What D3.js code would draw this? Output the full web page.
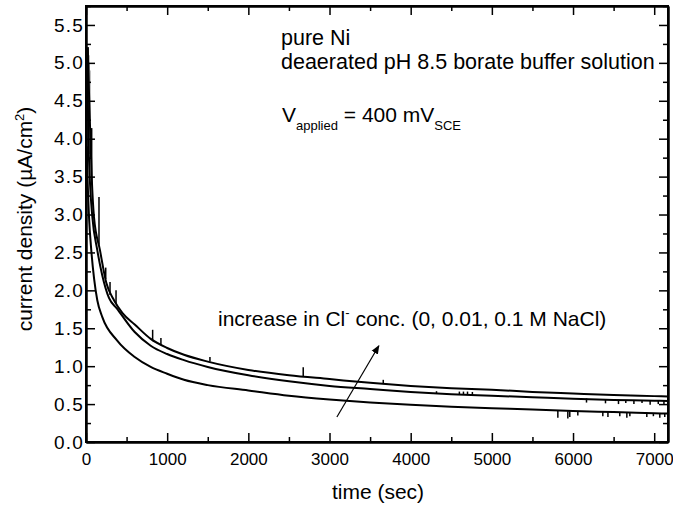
<!DOCTYPE html>
<html>
<head>
<meta charset="utf-8">
<script src="https://cdn.jsdelivr.net/npm/d3@7"></script>
<style>
  html, body { margin: 0; padding: 0; background: #fff; }
  svg { display: block; }
</style>
</head>
<body>
<svg id="chart" width="673" height="508"></svg>
<script>
// ---------------- data ----------------
const xTicks = [0, 1000, 2000, 3000, 4000, 5000, 6000, 7000];
const xMinorTicks = [500, 1500, 2500, 3500, 4500, 5500, 6500];
const yTicks = [0.0, 0.5, 1.0, 1.5, 2.0, 2.5, 3.0, 3.5, 4.0, 4.5, 5.0, 5.5];
const yMinorTicks = [0.25, 0.75, 1.25, 1.75, 2.25, 2.75, 3.25, 3.75, 4.25, 4.75, 5.25, 5.75];

// 0 M NaCl (lowest curve): [time s, current density µA/cm²]
const series0M = [[10,3.9],[20,3.45],[37,2.97],[65,2.53],[100,2.15],[139,1.87],[200,1.65],[382,1.34],[600,1.12],[797,0.99],[1000,0.9],[1207,0.82],[1500,0.75],[2000,0.68],[2500,0.61],[3000,0.56],[3500,0.52],[4000,0.49],[4500,0.465],[5000,0.445],[5500,0.43],[6000,0.41],[6500,0.395],[7000,0.38],[7170,0.375]];
// 0.01 M NaCl (middle curve)
const series001M = [[15,5.0],[30,4.0],[50,3.4],[78,2.97],[139,2.53],[200,2.2],[283,1.9],[382,1.76],[600,1.45],[797,1.27],[1000,1.16],[1207,1.08],[1500,0.99],[2000,0.88],[2500,0.8],[3000,0.74],[3500,0.7],[4000,0.66],[4500,0.63],[5000,0.61],[5500,0.59],[6000,0.57],[6500,0.555],[7000,0.545],[7170,0.54]];
// 0.1 M NaCl (upper curve)
const series01M = [[20,5.2],[40,4.5],[70,3.5],[98,2.97],[172,2.53],[250,2.1],[345,1.87],[450,1.7],[600,1.55],[797,1.36],[1000,1.24],[1207,1.15],[1500,1.06],[2000,0.95],[2500,0.88],[3000,0.83],[3500,0.78],[4000,0.74],[4500,0.71],[5000,0.69],[5500,0.66],[6000,0.64],[6500,0.62],[7000,0.605],[7170,0.6]];

// noise spikes: [time, from value, to value]
const earlyNoise = [[10,3.8,5.1],[16,3.8,5.17],[22,3.9,5.2],[28,3.85,5.15],[34,3.9,5.1],[40,3.8,5.0],[46,3.8,4.9]];
const spikes01M = [[25,4.6,5.21],[70,3.4,4.14],[160,2.6,3.23],[243,2.15,2.3],[296,1.94,2.11],[370,1.83,2.0],[821,1.33,1.48],[923,1.28,1.37],[1527,1.06,1.12],[2676,0.87,0.985],[3662,0.77,0.82]];
const spikes001M = [[4318,0.64,0.67],[4600,0.62,0.665],[4650,0.62,0.665],[4700,0.62,0.665],[4760,0.615,0.66],[6166,0.52,0.575],[6400,0.51,0.56],[6560,0.5,0.555],[6650,0.515,0.555],[6750,0.5,0.55],[6850,0.515,0.55],[6950,0.49,0.545],[7050,0.5,0.545],[7120,0.49,0.54]];
const spikes0M = [[5813,0.41,0.32],[5936,0.405,0.31],[5960,0.405,0.33],[6059,0.40,0.35],[6367,0.395,0.34],[6430,0.395,0.33],[6576,0.39,0.34],[6663,0.39,0.32],[6700,0.39,0.34],[6909,0.385,0.33],[6990,0.38,0.34],[7069,0.38,0.32],[7130,0.38,0.33]];

// annotation arrow (data coords): tail -> head
const arrowPts = [[3091,0.33],[3608,1.27]];

// ---------------- drawing ----------------
const M = {left: 86, right: 668, top: 6, bottom: 442};
const FONT = "'Liberation Sans', Arial, Helvetica, sans-serif";

const x = d3.scaleLinear().domain([0, 7170]).range([M.left, M.right]);
const y = d3.scaleLinear().domain([0, 5.75]).range([M.bottom, M.top]);

const svg = d3.select('#chart').attr('font-family', FONT);

// curves
const line = d3.line().x(d => x(d[0])).y(d => y(d[1])).curve(d3.curveMonotoneX);
const plot = svg.append('g');

plot.selectAll('line.early').data(earlyNoise).enter().append('line')
  .attr('x1', d => x(d[0])).attr('x2', d => x(d[0]))
  .attr('y1', d => y(d[1])).attr('y2', d => y(d[2]))
  .attr('stroke', '#808080').attr('stroke-width', 1.5);

[series0M, series001M, series01M].forEach(s => {
  plot.append('path').datum(s).attr('d', line)
    .attr('fill', 'none').attr('stroke', '#000').attr('stroke-width', 2);
});

[spikes01M, spikes001M, spikes0M].forEach(sp => {
  plot.selectAll(null).data(sp).enter().append('line')
    .attr('x1', d => x(d[0])).attr('x2', d => x(d[0]))
    .attr('y1', d => y(d[1])).attr('y2', d => y(d[2]))
    .attr('stroke', '#000').attr('stroke-width', 1.5);
});

// axes (ticks pointing inward)
const fmtY = d3.format('.1f');
function styleAxis(g) {
  g.selectAll('path.domain').attr('stroke', '#000').attr('stroke-width', 2);
  g.selectAll('.tick line').attr('stroke', '#000').attr('stroke-width', 1.5);
  g.selectAll('.tick text').attr('fill', '#000').attr('font-family', FONT);
}

svg.append('g').attr('transform', `translate(0,${M.bottom})`)
  .call(d3.axisBottom(x).tickValues(xTicks).tickSizeInner(-9).tickSizeOuter(0).tickPadding(11).tickFormat(d3.format('d')))
  .call(styleAxis)
  .call(g => g.selectAll('.tick text').attr('font-size', 17));
svg.append('g').attr('transform', `translate(0,${M.bottom})`)
  .call(d3.axisBottom(x).tickValues(xMinorTicks).tickSizeInner(-5).tickSizeOuter(0).tickFormat(''))
  .call(styleAxis);
svg.append('g').attr('transform', `translate(0,${M.top})`)
  .call(d3.axisTop(x).tickValues(xTicks).tickSizeInner(-9).tickSizeOuter(0).tickFormat(''))
  .call(styleAxis);
svg.append('g').attr('transform', `translate(0,${M.top})`)
  .call(d3.axisTop(x).tickValues(xMinorTicks).tickSizeInner(-5).tickSizeOuter(0).tickFormat(''))
  .call(styleAxis);

svg.append('g').attr('transform', `translate(${M.left},0)`)
  .call(d3.axisLeft(y).tickValues(yTicks).tickSizeInner(-9).tickSizeOuter(0).tickPadding(2).tickFormat(fmtY))
  .call(styleAxis)
  .call(g => g.selectAll('.tick text').attr('font-size', 19).attr('letter-spacing', 1.2));
svg.append('g').attr('transform', `translate(${M.left},0)`)
  .call(d3.axisLeft(y).tickValues(yMinorTicks).tickSizeInner(-5).tickSizeOuter(0).tickFormat(''))
  .call(styleAxis);
svg.append('g').attr('transform', `translate(${M.right},0)`)
  .call(d3.axisRight(y).tickValues(yTicks).tickSizeInner(-9).tickSizeOuter(0).tickFormat(''))
  .call(styleAxis);
svg.append('g').attr('transform', `translate(${M.right},0)`)
  .call(d3.axisRight(y).tickValues(yMinorTicks).tickSizeInner(-5).tickSizeOuter(0).tickFormat(''))
  .call(styleAxis);

// full frame
svg.append('rect').attr('x', M.left).attr('y', M.top)
  .attr('width', M.right - M.left).attr('height', M.bottom - M.top)
  .attr('fill', 'none').attr('stroke', '#000').attr('stroke-width', 2);

// axis titles
svg.append('text').attr('x', 378).attr('y', 499)
  .attr('text-anchor', 'middle').attr('font-size', 21).text('time (sec)');

const yt = svg.append('text').attr('transform', 'translate(32,219) rotate(-90)')
  .attr('text-anchor', 'middle').attr('font-size', 21);
yt.append('tspan').text('current density (\u00b5A/cm');
yt.append('tspan').attr('font-size', 13).attr('dy', -8).text('2');
yt.append('tspan').attr('dy', 8).text(')');

// annotations
svg.append('text').attr('x', 281).attr('y', 45).attr('font-size', 21.5).text('pure Ni');
svg.append('text').attr('x', 281).attr('y', 69).attr('font-size', 21.5).text('deaerated pH 8.5 borate buffer solution');

const vt = svg.append('text').attr('x', 282).attr('y', 122).attr('font-size', 21);
vt.append('tspan').text('V');
vt.append('tspan').attr('font-size', 13).attr('dy', 8).text('applied');
vt.append('tspan').attr('dy', -8).text(' = 400 mV');
vt.append('tspan').attr('font-size', 13).attr('dy', 8).text('SCE');

const ct = svg.append('text').attr('x', 218).attr('y', 326).attr('font-size', 21);
ct.append('tspan').text('increase in Cl');
ct.append('tspan').attr('font-size', 13).attr('dy', -9).text('-');
ct.append('tspan').attr('dy', 9).text(' conc. (0, 0.01, 0.1 M NaCl)');

// arrow
svg.append('defs').append('marker').attr('id', 'ah')
  .attr('viewBox', '0 0 10 10').attr('refX', 9).attr('refY', 5)
  .attr('markerWidth', 9).attr('markerHeight', 9).attr('markerUnits', 'userSpaceOnUse')
  .attr('orient', 'auto')
  .append('path').attr('d', 'M0,1 L10,5 L0,9 Z').attr('fill', '#000');
svg.append('line')
  .attr('x1', x(arrowPts[0][0])).attr('y1', y(arrowPts[0][1]))
  .attr('x2', x(arrowPts[1][0])).attr('y2', y(arrowPts[1][1]))
  .attr('stroke', '#000').attr('stroke-width', 1.2).attr('marker-end', 'url(#ah)');
</script>
</body>
</html>
